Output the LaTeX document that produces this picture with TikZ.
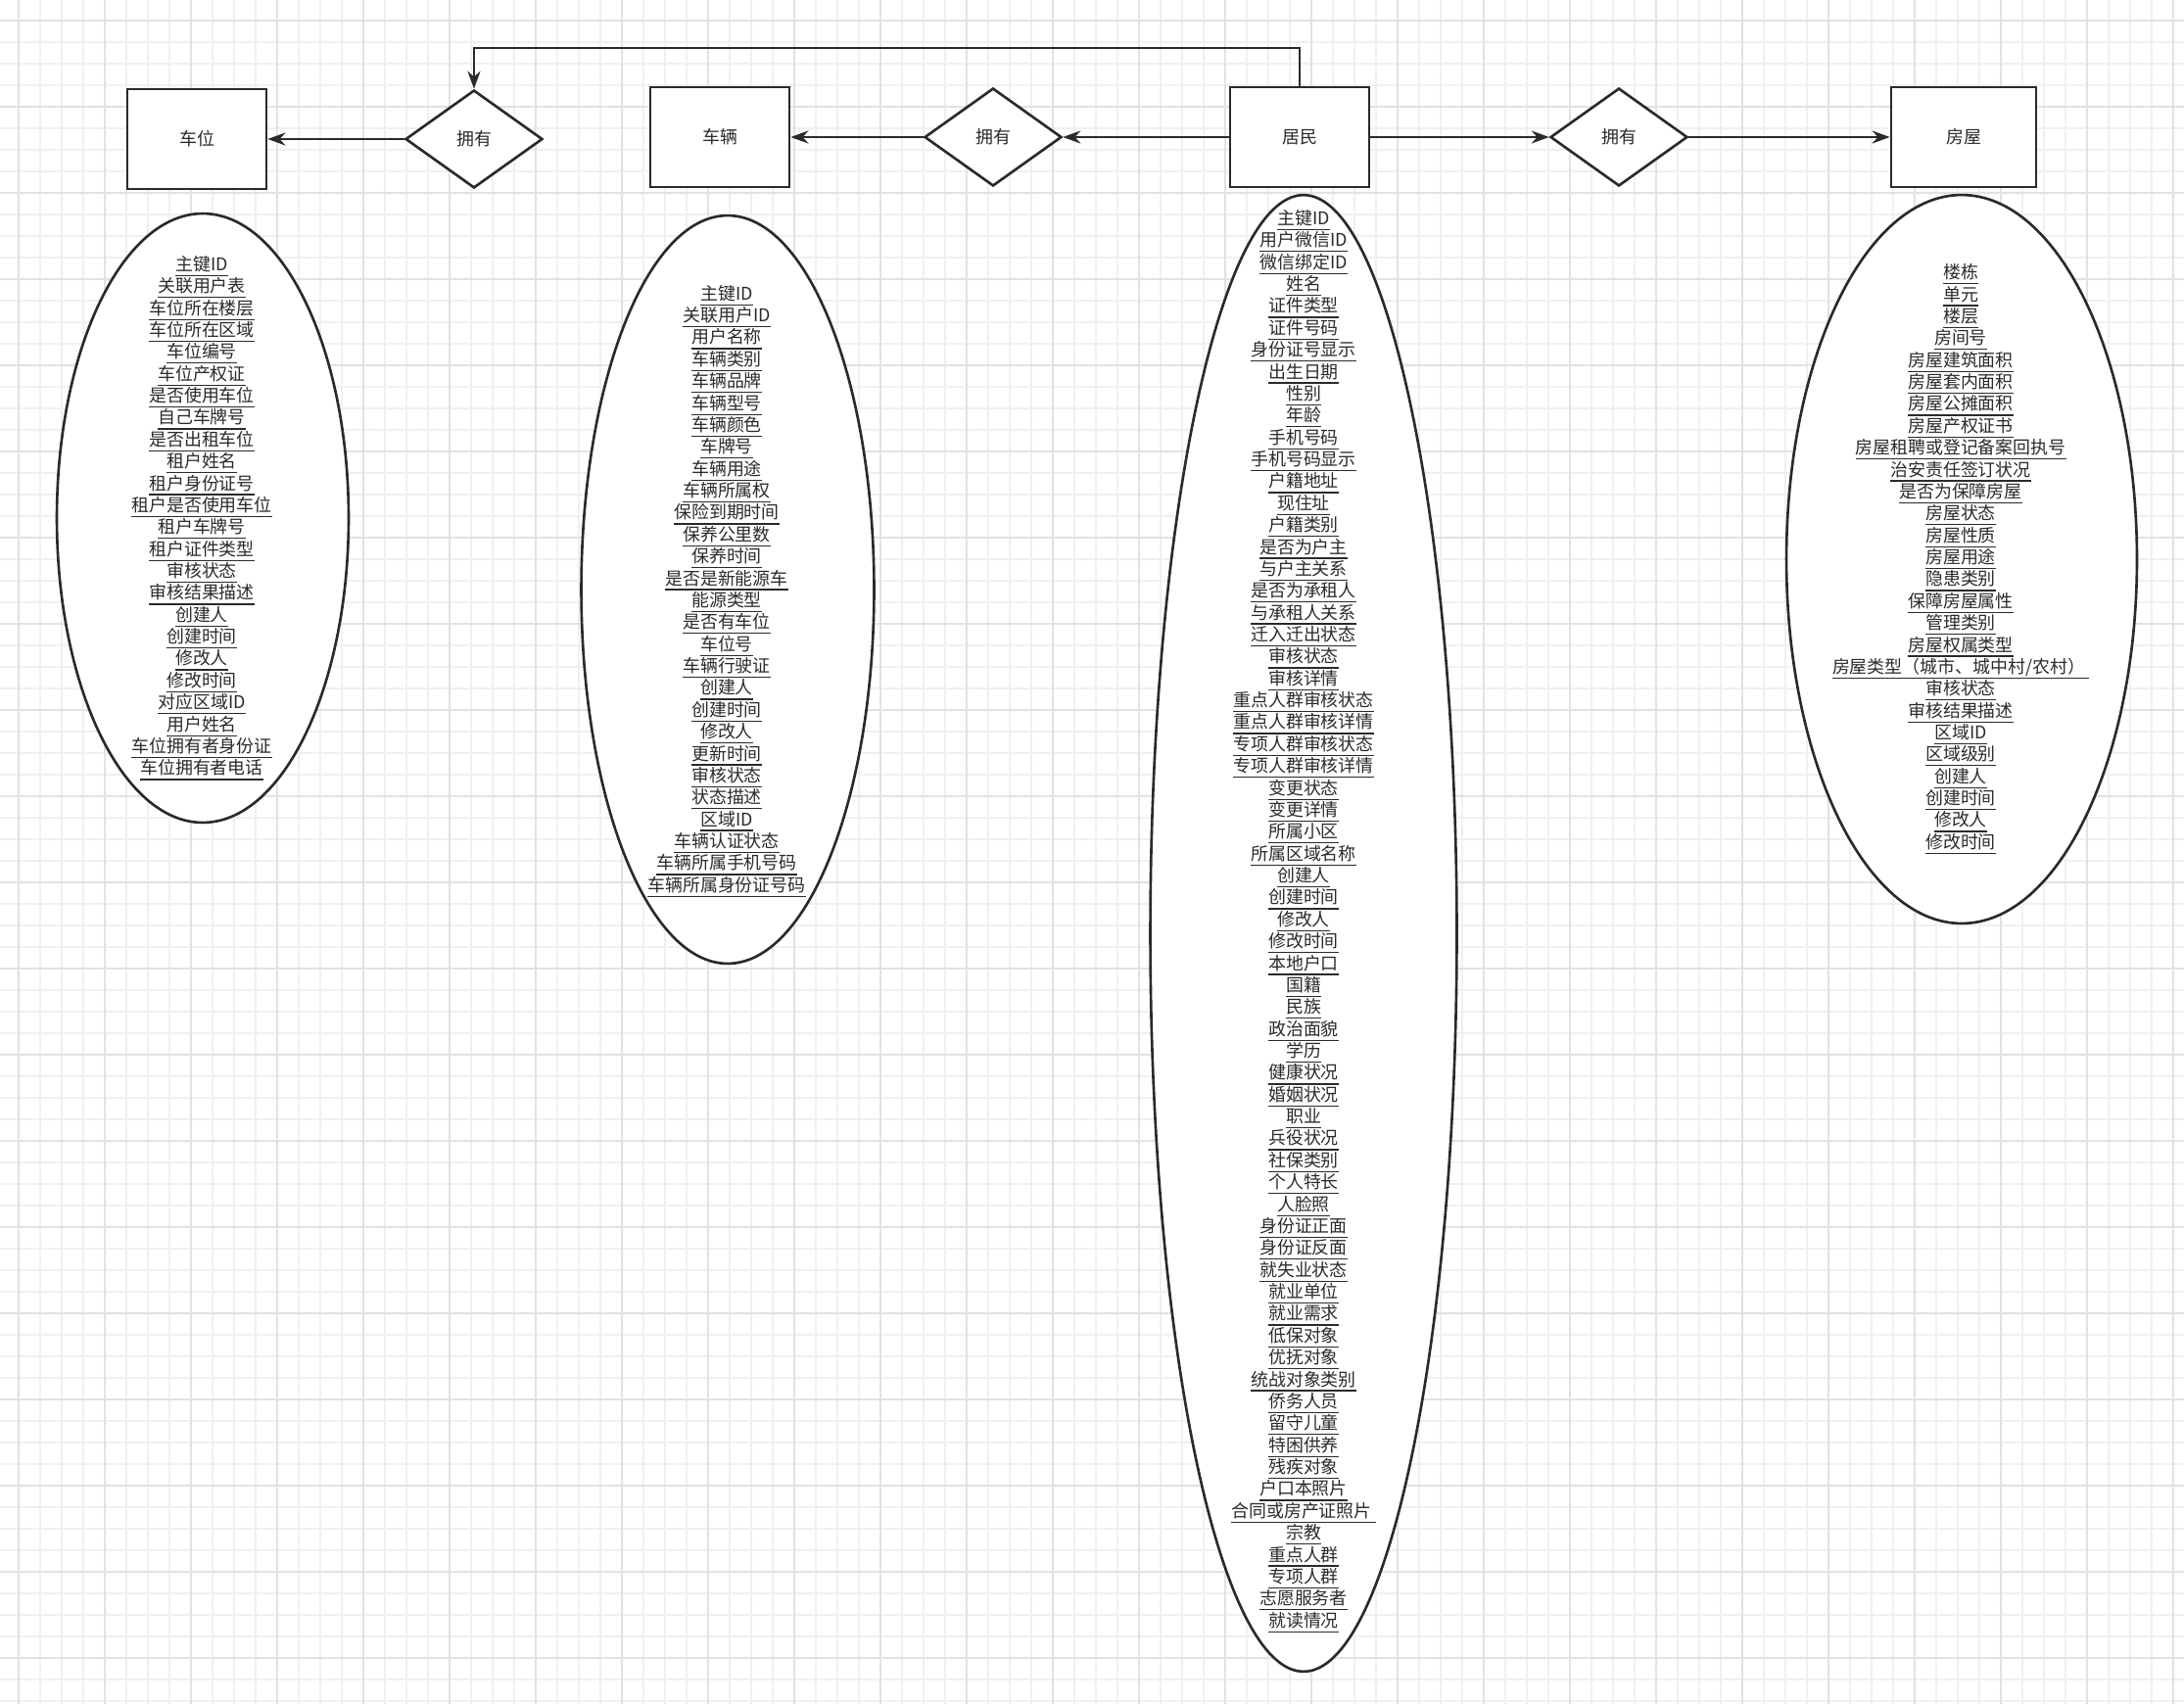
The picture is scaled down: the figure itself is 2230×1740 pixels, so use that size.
\documentclass[tikz,border=0pt]{standalone}
\usepackage{fontspec}
\newfontfamily\cjk{Noto Sans CJK SC}
\usetikzlibrary{shapes.geometric,arrows.meta}
\definecolor{minorgrid}{HTML}{F0F0F0}
\definecolor{majorgrid}{HTML}{E2E2E2}
\definecolor{ink}{HTML}{2A2A2A}
\newcommand{\fld}[1]{\vtop{\hbox{#1\rule[-1.7pt]{0pt}{1pt}}\kern0.8pt\hrule height 0.7pt}}
\tikzset{
	entity/.style={draw=ink,fill=white,line width=1.6pt,minimum width=2.84cm,minimum height=2.04cm,inner sep=0pt},
	relation/.style={diamond,draw=ink,fill=white,line width=1.5pt,minimum width=2.8cm,minimum height=2.0cm,inner sep=0pt},
	attrs/.style={ellipse,draw=ink,fill=white,line width=1.5pt,inner sep=0pt},
	field/.style={inner sep=0pt},
	link/.style={->,draw=ink,line width=1.5pt}
}
\begin{document}
\begin{tikzpicture}[x=0.02cm,y=-0.02cm,>={Stealth[length=3.6mm,width=2.6mm]},font=\cjk\fontsize{10.2}{12}\selectfont,text=ink]
		\useasboundingbox (0,0) rectangle (2230,1740);
		\fill[white] (0,0) rectangle (2230,1740);
		% grid
		\foreach \x in {19,41,...,2230}\draw[minorgrid,line width=0.8pt] (\x,0)--(\x,1740);
		\foreach \y in {21,43,...,1740}\draw[minorgrid,line width=0.8pt] (0,\y)--(2230,\y);
		\foreach \x in {19,107,...,2230}\draw[majorgrid,line width=0.8pt] (\x,0)--(\x,1740);
		\foreach \y in {21,109,...,1740}\draw[majorgrid,line width=0.8pt] (0,\y)--(2230,\y);
		% entities and relations
		\node[entity] (spot) at (201,142) {车位};
		\node[relation] (own1) at (484,142) {拥有};
		\node[entity] (car) at (735,140) {车辆};
		\node[relation] (own2) at (1014,140) {拥有};
		\node[entity] (resident) at (1327,140) {居民};
		\node[relation] (own3) at (1653,140) {拥有};
		\node[entity,minimum width=2.96cm] (house) at (2005,140) {房屋};
		\coordinate (bend) at (1327,49);
		\draw[link] (own1.west)--(spot.east);
		\draw[link] (own2.west)--(car.east);
		\draw[link] (resident.west)--(own2.east);
		\draw[link] (resident.east)--(own3.west);
		\draw[link] (own3.east)--(house.west);
		\draw[link] (resident.north)--(bend)-|(own1.north);
		% attributes
		\node[attrs,minimum width=5.96cm,minimum height=12.44cm] (spotattr) at (207,529) {};
		\node[attrs,minimum width=5.98cm,minimum height=15.28cm] (carattr) at (743,602) {};
		\node[attrs,minimum width=6.26cm,minimum height=30.16cm] (resattr) at (1331,953) {};
		\node[attrs,minimum width=7.16cm,minimum height=14.88cm] (houseattr) at (2003,571) {};
		\foreach \t [count=\i] in {主键ID,关联用户表,车位所在楼层,车位所在区域,车位编号,车位产权证,是否使用车位,自己车牌号,是否出租车位,租户姓名,租户身份证号,租户是否使用车位,租户车牌号,租户证件类型,审核状态,审核结果描述,创建人,创建时间,修改人,修改时间,对应区域ID,用户姓名,车位拥有者身份证,车位拥有者电话}
			\node[field] (spotf\i) at (206,{271.6+22.37*(\i-1)}) {\fld{\t}};
		\foreach \t [count=\i] in {主键ID,关联用户ID,用户名称,车辆类别,车辆品牌,车辆型号,车辆颜色,车牌号,车辆用途,车辆所属权,保险到期时间,保养公里数,保养时间,是否是新能源车,能源类型,是否有车位,车位号,车辆行驶证,创建人,创建时间,修改人,更新时间,审核状态,状态描述,区域ID,车辆认证状态,车辆所属手机号码,车辆所属身份证号码}
			\node[field] (carf\i) at (742,{301.5+22.37*(\i-1)}) {\fld{\t}};
		\foreach \t [count=\i] in {主键ID,用户微信ID,微信绑定ID,姓名,证件类型,证件号码,身份证号显示,出生日期,性别,年龄,手机号码,手机号码显示,户籍地址,现住址,户籍类别,是否为户主,与户主关系,是否为承租人,与承租人关系,迁入迁出状态,审核状态,审核详情,重点人群审核状态,重点人群审核详情,专项人群审核状态,专项人群审核详情,变更状态,变更详情,所属小区,所属区域名称,创建人,创建时间,修改人,修改时间,本地户口,国籍,民族,政治面貌,学历,健康状况,婚姻状况,职业,兵役状况,社保类别,个人特长,人脸照,身份证正面,身份证反面,就失业状态,就业单位,就业需求,低保对象,优抚对象,统战对象类别,侨务人员,留守儿童,特困供养,残疾对象,户口本照片,合同或房产证照片\ ,宗教,重点人群,专项人群,志愿服务者,就读情况}
			\node[field] (resf\i) at (1331,{224.7+22.37*(\i-1)}) {\fld{\t}};
		\foreach \t [count=\i] in {楼栋,单元,楼层,房间号,房屋建筑面积,房屋套内面积,房屋公摊面积,房屋产权证书,房屋租聘或登记备案回执号,治安责任签订状况,是否为保障房屋,房屋状态,房屋性质,房屋用途,隐患类别,保障房屋属性,管理类别,房屋权属类型,房屋类型（城市、城中村/农村）\ ,审核状态,审核结果描述,区域ID,区域级别,创建人,创建时间,修改人,修改时间}
			\node[field] (housef\i) at (2002,{280+22.37*(\i-1)}) {\fld{\t}};
\end{tikzpicture}
\end{document}
